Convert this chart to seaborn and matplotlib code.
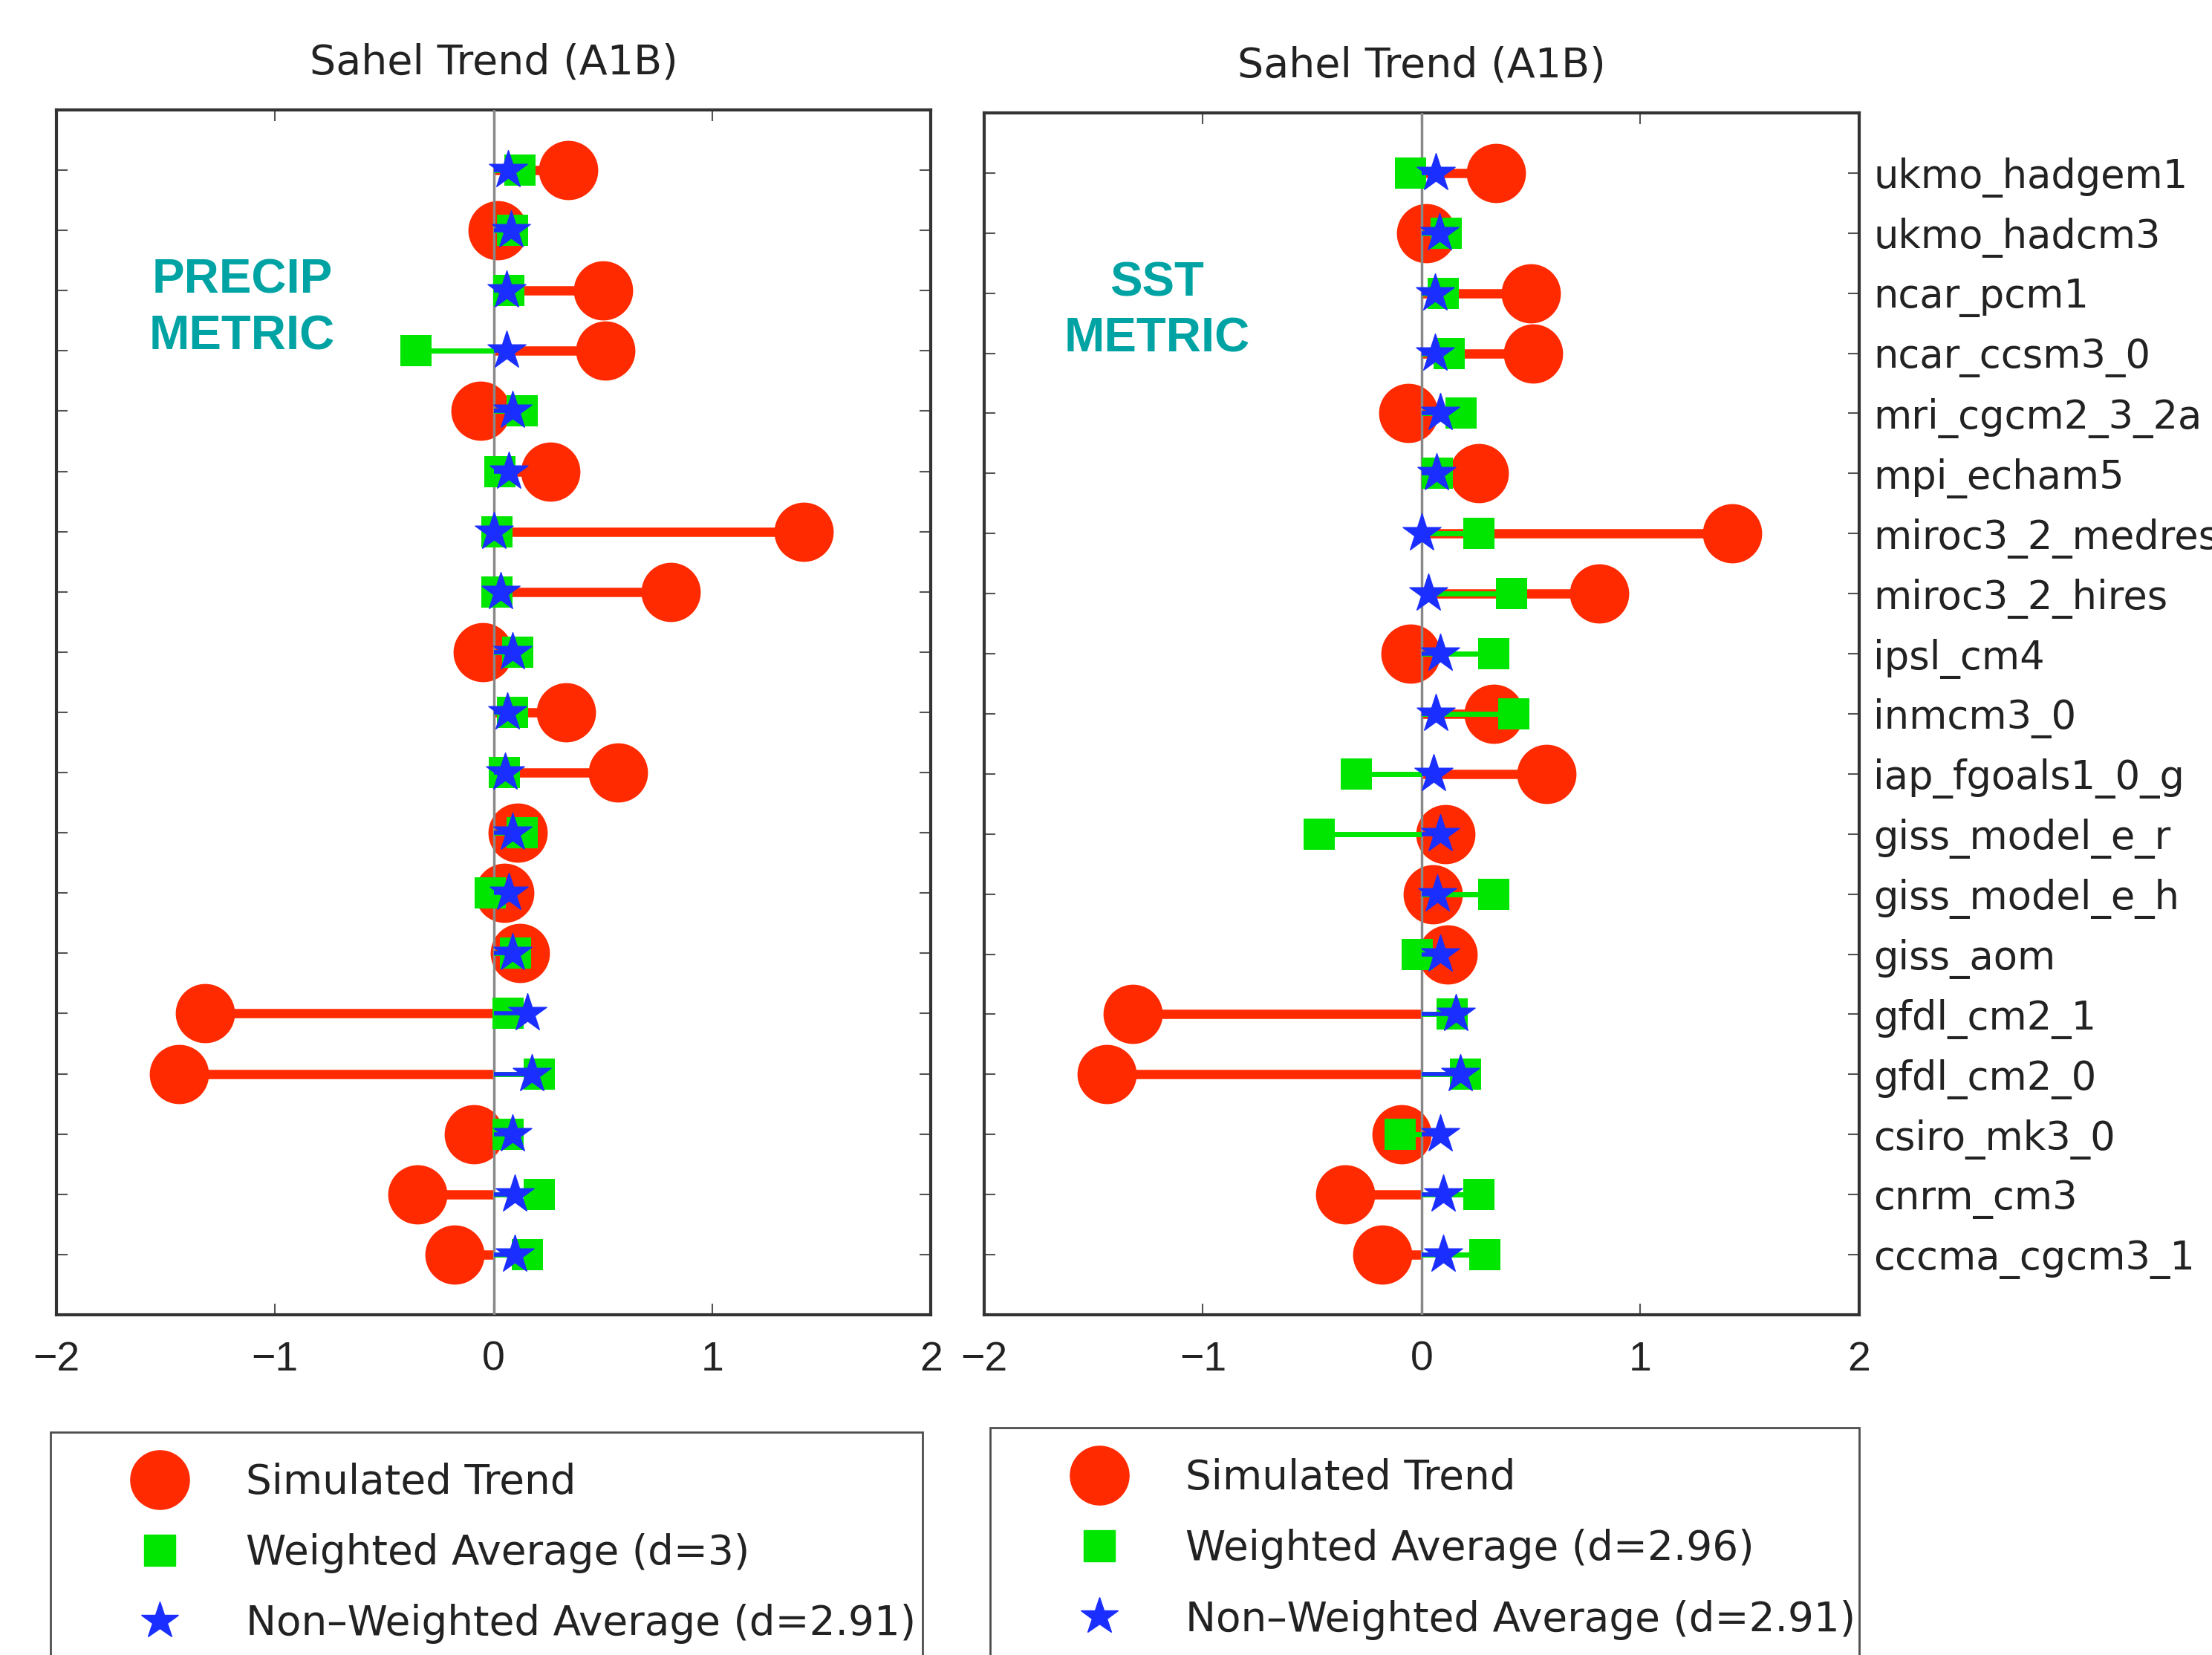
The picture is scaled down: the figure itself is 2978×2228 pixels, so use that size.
import numpy as np
import matplotlib.pyplot as plt
import seaborn as sns
import pandas as pd
from matplotlib.lines import Line2D

# -----------------------------
# Data
# -----------------------------
MODELS = ["ukmo_hadgem1", "ukmo_hadcm3", "ncar_pcm1", "ncar_ccsm3_0",
          "mri_cgcm2_3_2a", "mpi_echam5", "miroc3_2_medres", "miroc3_2_hires",
          "ipsl_cm4", "inmcm3_0", "iap_fgoals1_0_g", "giss_model_e_r",
          "giss_model_e_h", "giss_aom", "gfdl_cm2_1", "gfdl_cm2_0",
          "csiro_mk3_0", "cnrm_cm3", "cccma_cgcm3_1"]

sim_trend = [0.34, 0.02, 0.50, 0.51, -0.06, 0.26, 1.42, 0.81, -0.05, 0.33,
             0.57, 0.11, 0.05, 0.12, -1.32, -1.44, -0.09, -0.35, -0.18]
nonweighted_avg = [0.065, 0.08, 0.06, 0.06, 0.085, 0.068, 0.0, 0.032, 0.085, 0.064,
                   0.054, 0.085, 0.07, 0.085, 0.156, 0.175, 0.085, 0.097, 0.097]
precip_weighted = [0.12, 0.085, 0.07, -0.355, 0.13, 0.03, 0.015, 0.015, 0.11, 0.085,
                   0.05, 0.13, -0.015, 0.10, 0.065, 0.21, 0.065, 0.21, 0.156]
sst_weighted = [-0.05, 0.113, 0.10, 0.127, 0.18, 0.07, 0.26, 0.41, 0.33, 0.42,
                -0.30, -0.47, 0.33, -0.02, 0.14, 0.20, -0.10, 0.26, 0.29]

PANELS = [
    ("PRECIP\nMETRIC", precip_weighted, "Weighted Average (d=3)"),
    ("SST\nMETRIC", sst_weighted, "Weighted Average (d=2.96)"),
]
NONW_LABEL = "Non\u2013Weighted Average (d=2.91)"

RED = "#ff2a00"
GREEN = "#00e600"
BLUE = "#1a2eff"
TEAL = "#00a3a3"
TXT = "#222222"

sns.set_theme(style="white")
plt.rcParams["font.family"] = ["DejaVu Sans"]

fig = plt.figure(figsize=(29.78, 22.28), dpi=100)
axes = [fig.add_axes([0.0255, 0.2056, 0.3953, 0.7280]),
        fig.add_axes([0.4449, 0.2056, 0.3956, 0.7262])]
leg_boxes = [(0.0228, 0.1347, 0.3942), (0.4476, 0.1373, 0.3930)]
tag_x = [-1.15, -1.21]

ypos = np.arange(1, len(MODELS) + 1)

for i, (ax, (tag, weighted, wlabel)) in enumerate(zip(axes, PANELS)):
    df = pd.DataFrame({"row": ypos, "sim": sim_trend,
                       "wavg": weighted, "avg": nonweighted_avg})

    ax.hlines(df["row"], 0, df["sim"], color=RED, lw=9, zorder=2)
    sns.scatterplot(data=df, x="sim", y="row", ax=ax, marker="o", s=3300,
                    color=RED, linewidth=0, zorder=3, legend=False)
    ax.axvline(0, color="#888888", lw=2.5, zorder=3.5)
    ax.hlines(df["row"], 0, df["wavg"], color=GREEN, lw=5, zorder=4)
    sns.scatterplot(data=df, x="wavg", y="row", ax=ax, marker="s", s=900,
                    color=GREEN, linewidth=0, zorder=5, legend=False)
    ax.hlines(df["row"], 0, df["avg"], color=BLUE, lw=4, zorder=6)
    sns.scatterplot(data=df, x="avg", y="row", ax=ax, marker="*", s=1500,
                    color=BLUE, edgecolor=BLUE, linewidth=1, zorder=7, legend=False)

    ax.set_xlim(-2, 2)
    ax.set_ylim(20, 0)
    ax.set_xticks([-2, -1, 0, 1, 2])
    ax.set_yticks(ypos)
    ax.set_xlabel("")
    ax.set_ylabel("")
    if i == 1:
        ax.set_yticklabels(MODELS)
    ax.tick_params(axis="both", direction="in", length=11, width=1.5,
                   color="#555555", labelcolor=TXT,
                   top=True, bottom=True, left=True, right=True,
                   labelleft=False, labelright=(i == 1))
    ax.tick_params(axis="x", pad=25, labelsize=40)
    ax.tick_params(axis="y", pad=14, labelsize=38)
    for lab in ax.get_xticklabels():
        lab.set_fontfamily("Liberation Sans")
    for sp in ax.spines.values():
        sp.set_visible(True)
        sp.set_color("#333333")
        sp.set_linewidth(3)
    ax.set_title("Sahel Trend (A1B)", fontsize=40, color=TXT, pad=35)

    ax.text(tag_x[i], 3.3, tag, ha="center", va="center", fontsize=47,
            fontweight="bold", color=TEAL, linespacing=1.33,
            family="Liberation Sans")

    handles = [
        Line2D([], [], ls="none", marker="o", ms=57, color=RED, mec=RED),
        Line2D([], [], ls="none", marker="s", ms=30, color=GREEN, mec=GREEN),
        Line2D([], [], ls="none", marker="*", ms=38, color=BLUE, mec=BLUE),
    ]
    labels = ["Simulated Trend", wlabel, NONW_LABEL]
    x0, top, w = leg_boxes[i]
    leg = fig.legend(handles, labels, loc="upper left",
                     bbox_to_anchor=(x0, top - 0.1, w, 0.1), mode="expand",
                     borderaxespad=0, fontsize=39.5, frameon=True, fancybox=False,
                     borderpad=0.75, handlelength=3.85, handletextpad=0.2,
                     labelspacing=0.75, labelcolor=TXT)
    leg.get_frame().set_edgecolor("#222222")
    leg.get_frame().set_linewidth(2)

fig.savefig("out.png", dpi=100)
